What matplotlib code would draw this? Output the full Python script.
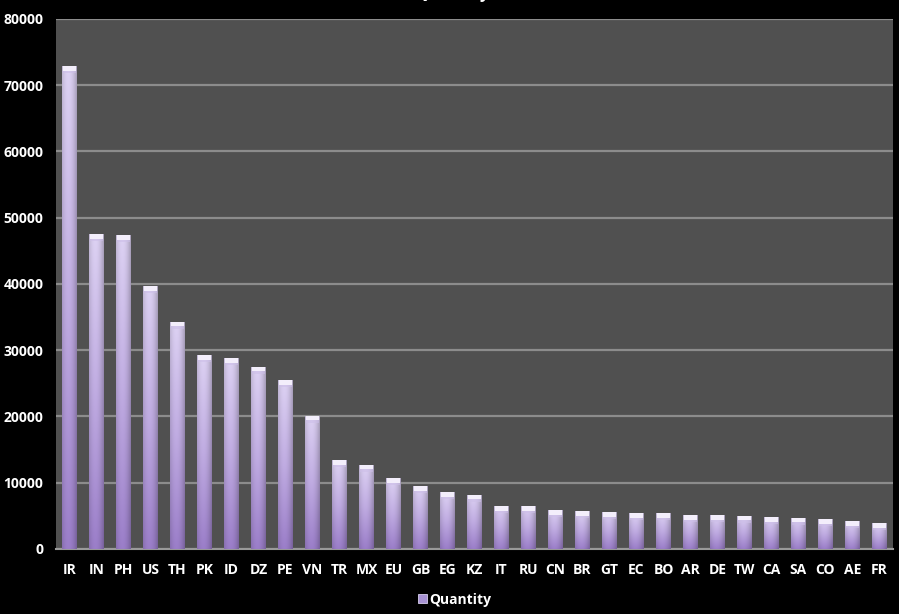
import numpy as np
import matplotlib.pyplot as plt
import matplotlib
from matplotlib.colors import LinearSegmentedColormap

matplotlib.rc('font', family='Open Sans', weight='bold', size=10)

countries = ['IR', 'IN', 'PH', 'US', 'TH', 'PK', 'ID', 'DZ', 'PE', 'VN',
             'TR', 'MX', 'EU', 'GB', 'EG', 'KZ', 'IT', 'RU', 'CN', 'BR',
             'GT', 'EC', 'BO', 'AR', 'DE', 'TW', 'CA', 'SA', 'CO', 'AE', 'FR']
quantity = [72900, 47500, 47400, 39700, 34300, 29300, 28800, 27500, 25500, 20100,
            13400, 12700, 10700, 9500, 8600, 8200, 6500, 6500, 5900, 5700,
            5600, 5400, 5400, 5100, 5100, 5000, 4800, 4700, 4500, 4200, 3900]
yticks = [0, 10000, 20000, 30000, 40000, 50000, 60000, 70000, 80000]

fig = plt.figure(figsize=(8.99, 6.14), dpi=100, facecolor='black')
ax = fig.add_axes([0.0623, 0.1059, 0.9310, 0.8632])
ax.set_facecolor('#505050')

x = np.arange(len(countries))
width = 0.55

# gradient fill for bars: light on top, purple at bottom, darker edges
cmap = LinearSegmentedColormap.from_list('bar', ['#9b7ec9', '#c0acE2', '#ddd2f3'])
gy = np.linspace(0, 1, 200)[:, None]
gx = np.linspace(-1, 1, 40)[None, :]
shade = 1 - 0.18 * np.abs(gx + 0.15) ** 2
grad = cmap(gy * np.ones_like(gx))
grad[..., :3] *= shade[..., None]

bars = ax.bar(x, quantity, width, color='none', zorder=3)
for rect, h in zip(bars, quantity):
    x0 = rect.get_x()
    im = ax.imshow(grad, extent=[x0, x0 + width, 0, h], origin='lower',
                   aspect='auto', zorder=3, interpolation='bilinear')
    im.set_clip_path(rect)

# light cap on top of each bar
cap = 700
ax.bar(x, cap, width * 0.92, bottom=np.array(quantity) - cap,
       color='#f3eefb', zorder=4)
ax.bar(x, cap * 0.5, width * 0.92, bottom=np.array(quantity) - cap * 1.5,
       color='#cdbfe8', alpha=0.6, zorder=4)

ax.set_xlim(-0.5, len(countries) - 0.5)
ax.set_ylim(0, 80000)
ax.set_yticks(yticks)
ax.set_yticklabels([str(v) for v in yticks])
ax.set_xticks(x)
ax.set_xticklabels(countries)
ax.yaxis.grid(True, color='#8c8c8c', linewidth=1.6, zorder=1)
ax.set_axisbelow(True)
ax.tick_params(colors='white', length=0, labelsize=10)
ax.tick_params(axis='y', pad=9)
ax.tick_params(axis='x', pad=10)
for s in ['left', 'right', 'top']:
    ax.spines[s].set_visible(False)
ax.spines['bottom'].set_color('#9a9a9a')
ax.spines['bottom'].set_linewidth(1.5)

fig.text(0.503, 1.003, 'Quantity', ha='center', va='baseline', color='white',
         fontsize=12)

# legend
fig.patches.append(plt.Rectangle((0.4655, 0.0185), 0.0095, 0.014,
                                 transform=fig.transFigure, facecolor='#a893d4',
                                 edgecolor='#d8d0ee', linewidth=0.6))
fig.text(0.478, 0.0235, 'Quantity', color='white', fontsize=10, va='center')

plt.savefig('out.png', dpi=100, facecolor='black')
